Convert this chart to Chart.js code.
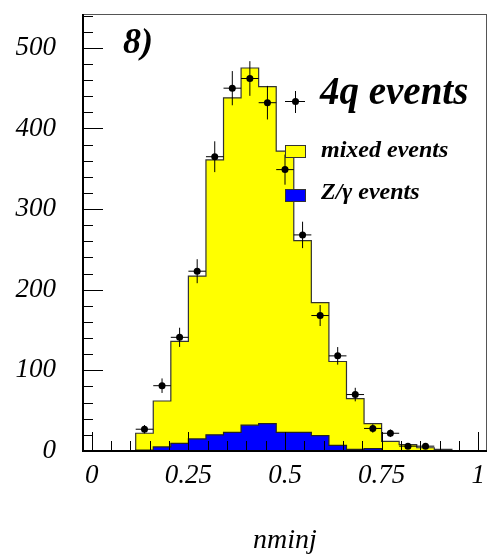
<!DOCTYPE html>
<html lang="en">
<head>
    <meta charset="UTF-8">
    <title>nminj - 4q events</title>
    <script src="https://cdn.jsdelivr.net/npm/chart.js"></script>
    <style>
        body { margin: 0; background: #ffffff; }
        .chart-container { position: relative; width: 495px; height: 560px; }
    </style>
</head>
<body>
    <div class="chart-container">
        <canvas id="histChart"></canvas>
    </div>

    <script>
        // --- data: 23 bins of width 1/22, centred on 0, 1/22, ..., 1 ---
        const mixedEvents = [0, 0, 0, 22, 62, 136, 217, 361, 438, 475, 452, 372, 261, 184, 111, 65, 34, 12, 8, 4, 2, 0, 0];
        const zgEvents    = [0, 0, 0, 1, 5, 9.5, 15, 20, 23, 32, 34, 23, 23, 19, 7, 2, 3, 0, 0, 0, 0, 0, 0];
        const dataEvents  = [null, null, null, 27, 81, 141, 223, 365, 450, 462, 432, 349, 268, 168, 118, 70, 28, 22, 6, 6, null, null, null];
        const dataErrors  = [null, null, null, 5.2, 9, 11.9, 14.9, 19.1, 21.2, 21.5, 20.8, 18.7, 16.4, 13, 10.9, 8.4, 5.3, 4.7, 2.4, 2.4, null, null, null];
        const xTickLabels = ['0', '0.25', '0.5', '0.75', '1'];
        const yTickLabels = ['0', '100', '200', '300', '400', '500'];

        const binWidth = 1 / 22;
        const xMin = -binWidth / 2;
        const xMax = 1 + binWidth / 2;
        const yMax = 542;
        const serif = "'Liberation Serif', 'DejaVu Serif', serif";

        // outline of a histogram as a stepped line (left edges + last right edge)
        function histOutline(values) {
            const pts = [{ x: xMin, y: 0 }];
            values.forEach((v, k) => pts.push({ x: xMin + k * binWidth, y: v }));
            pts.push({ x: xMax, y: values[values.length - 1] });
            pts.push({ x: xMax, y: 0 });
            return pts;
        }

        // data points and their error bars (nulls break the line between bars)
        const points = [];
        const errorBars = [];
        dataEvents.forEach((v, k) => {
            if (v === null) return;
            const c = k * binWidth;
            const e = dataErrors[k];
            points.push({ x: c, y: v });
            errorBars.push({ x: c, y: v - e }, { x: c, y: v + e }, { x: c, y: null });
            errorBars.push({ x: c - binWidth / 2, y: v }, { x: c + binWidth / 2, y: v }, { x: c + binWidth / 2, y: null });
        });

        // inward ticks, frame, plot label and legend
        const decorations = {
            id: 'decorations',
            afterDatasetsDraw(chart) {
                const { ctx, chartArea: a, scales } = chart;
                ctx.save();
                ctx.strokeStyle = '#000';
                ctx.lineWidth = 1;
                ctx.beginPath();
                scales.x.ticks.forEach((t, i) => {
                    const px = Math.round(scales.x.getPixelForValue(t.value)) + 0.5;
                    const len = i % 5 === 0 ? 19 : 10;
                    ctx.moveTo(px, a.bottom);
                    ctx.lineTo(px, a.bottom - len);
                });
                scales.y.ticks.forEach((t, i) => {
                    const py = Math.round(scales.y.getPixelForValue(t.value)) + 0.5;
                    const len = i % 5 === 0 ? 20 : 10;
                    ctx.moveTo(a.left, py);
                    ctx.lineTo(a.left + len, py);
                });
                ctx.stroke();

                // frame
                ctx.strokeStyle = '#555';
                ctx.strokeRect(a.left + 0.5, a.top + 0.5, a.right - a.left - 1, a.bottom - a.top);
                ctx.strokeStyle = '#000';
                ctx.lineWidth = 2;
                ctx.beginPath();
                ctx.moveTo(a.left, a.top);
                ctx.lineTo(a.left, a.bottom);
                ctx.lineTo(a.right, a.bottom);
                ctx.stroke();

                // texts
                ctx.fillStyle = '#000';
                ctx.textBaseline = 'alphabetic';
                ctx.font = 'bold italic 36px ' + serif;
                ctx.fillText('8)', 123, 53);
                ctx.font = 'bold italic 39px ' + serif;
                ctx.fillText('4q events', 320, 104);
                ctx.font = 'bold italic 24px ' + serif;
                ctx.fillText('mixed events', 321, 157);
                ctx.fillText('Z/\u03b3 events', 321, 199);

                // legend markers
                ctx.lineWidth = 1;
                ctx.beginPath();
                ctx.moveTo(285, 101.5); ctx.lineTo(305, 101.5);
                ctx.moveTo(295.5, 91); ctx.lineTo(295.5, 113);
                ctx.stroke();
                ctx.beginPath();
                ctx.arc(295.5, 101.5, 3.5, 0, Math.PI * 2);
                ctx.fill();
                ctx.strokeStyle = '#333';
                ctx.fillStyle = '#ffff00';
                ctx.fillRect(285, 145, 21, 13);
                ctx.strokeRect(285.5, 145.5, 20, 12);
                ctx.fillStyle = '#0000ff';
                ctx.fillRect(285, 189, 21, 13);
                ctx.strokeRect(285.5, 189.5, 20, 12);
                ctx.restore();
            }
        };

        const ctx = document.getElementById('histChart').getContext('2d');
        const histChart = new Chart(ctx, {
            type: 'line',
            data: {
                datasets: [
                    {
                        label: '4q events',
                        data: points,
                        showLine: false,
                        pointRadius: 3.5,
                        pointBackgroundColor: '#000',
                        pointBorderWidth: 0,
                        order: 0
                    },
                    {
                        label: 'errors',
                        data: errorBars,
                        borderColor: '#000',
                        borderWidth: 1,
                        pointRadius: 0,
                        spanGaps: false,
                        order: 1
                    },
                    {
                        label: 'Z/\u03b3 events',
                        data: histOutline(zgEvents),
                        stepped: true,
                        borderColor: '#222',
                        borderWidth: 1.2,
                        backgroundColor: '#0000ff',
                        fill: 'origin',
                        pointRadius: 0,
                        order: 2
                    },
                    {
                        label: 'mixed events',
                        data: histOutline(mixedEvents),
                        stepped: true,
                        borderColor: '#333',
                        borderWidth: 1.2,
                        backgroundColor: '#ffff00',
                        fill: 'origin',
                        pointRadius: 0,
                        order: 3
                    }
                ]
            },
            options: {
                responsive: true,
                maintainAspectRatio: false,
                animation: false,
                layout: { padding: { top: 14, right: 8, left: 0, bottom: 0 } },
                plugins: {
                    legend: { display: false },
                    tooltip: { enabled: false }
                },
                scales: {
                    x: {
                        type: 'linear',
                        min: xMin,
                        max: xMax,
                        grid: { display: false, drawTicks: false },
                        border: { display: false },
                        afterBuildTicks: (scale) => {
                            scale.ticks = Array.from({ length: 21 }, (_, k) => ({ value: k * 0.05 }));
                        },
                        afterFit: (scale) => {
                            scale.height = 109;
                            scale.paddingLeft = 0;
                            scale.paddingRight = 0;
                        },
                        ticks: {
                            autoSkip: false,
                            maxRotation: 0,
                            padding: 9,
                            color: '#000',
                            font: { family: serif, size: 27, style: 'italic' },
                            callback: (value, index) => index % 5 === 0 ? xTickLabels[index / 5] : ''
                        },
                        title: {
                            display: true,
                            text: 'nminj',
                            color: '#000',
                            font: { family: serif, size: 28, style: 'italic' },
                            padding: { top: 0, bottom: 3 }
                        }
                    },
                    y: {
                        min: 0,
                        max: yMax,
                        grid: { display: false, drawTicks: false },
                        border: { display: false },
                        afterBuildTicks: (scale) => {
                            scale.ticks = Array.from({ length: 28 }, (_, k) => ({ value: k * 20 }));
                        },
                        afterFit: (scale) => {
                            scale.width = 83;
                            scale.paddingTop = 0;
                            scale.paddingBottom = 0;
                        },
                        ticks: {
                            autoSkip: false,
                            padding: 27,
                            color: '#000',
                            font: { family: serif, size: 27, style: 'italic' },
                            callback: (value, index) => index % 5 === 0 ? yTickLabels[index / 5] : ''
                        }
                    }
                }
            },
            plugins: [decorations]
        });
    </script>
</body>
</html>
